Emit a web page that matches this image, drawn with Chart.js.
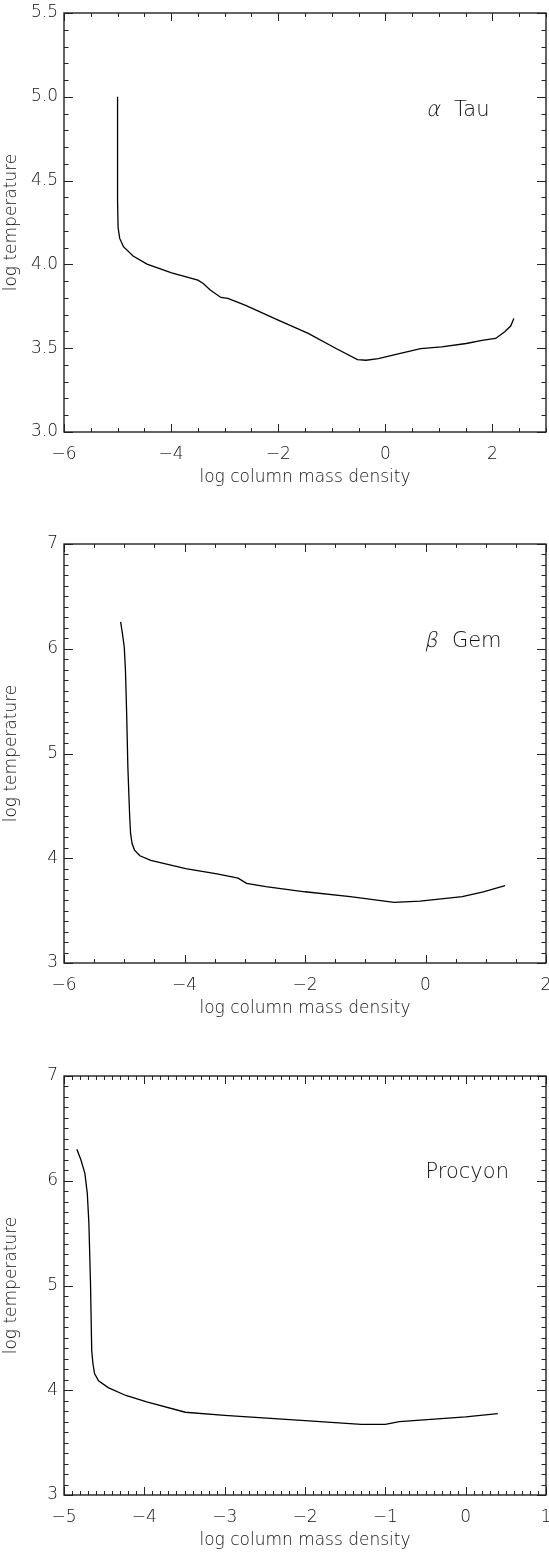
<!DOCTYPE html>
<html>
<head>
<meta charset="utf-8">
<title>Temperature structure</title>
<script src="https://cdn.jsdelivr.net/npm/chart.js@4.4.0/dist/chart.umd.min.js"></script>
<style>
  html, body { margin: 0; padding: 0; background: #fff; overflow: hidden; }
  body { width: 549px; height: 1552px; position: relative; }
  canvas { position: absolute; left: 0; }
</style>
</head>
<body>
<canvas id="tauChart" width="549" height="500" style="top:0px"></canvas>
<canvas id="gemChart" width="549" height="530" style="top:500px"></canvas>
<canvas id="procyonChart" width="549" height="522" style="top:1030px"></canvas>
<script>
// alpha Tau model
const tauMass = [-5.0, -5.0, -4.99, -4.96, -4.89, -4.71, -4.45, -3.99, -3.50, -3.40, -3.27, -3.07, -2.94,
                 -2.62, -2.0, -1.44, -0.92, -0.52, -0.36, -0.13, 0.26, 0.66, 1.05, 1.51, 1.83, 2.06, 2.23, 2.34, 2.40];
const tauTemp = [5.0, 4.38, 4.22, 4.155, 4.106, 4.05, 4.002, 3.95, 3.906, 3.886, 3.847, 3.803, 3.797,
                 3.757, 3.667, 3.588, 3.498, 3.432, 3.428, 3.438, 3.468, 3.498, 3.508, 3.528, 3.548, 3.558, 3.598, 3.632, 3.677];
const tauXTicks = [-6, -4, -2, 0, 2];
const tauYTicks = [3.0, 3.5, 4.0, 4.5, 5.0, 5.5];

// beta Gem model
const gemMass = [-5.06, -5.03, -5.0, -4.98, -4.96, -4.94, -4.91, -4.895, -4.87, -4.83, -4.74, -4.56, -3.98,
                 -3.46, -3.11, -2.97, -2.65, -2.0, -1.25, -0.52, -0.09, 0.61, 0.96, 1.32];
const gemTemp = [6.256, 6.145, 6.017, 5.795, 5.38, 4.87, 4.40, 4.237, 4.14, 4.078, 4.024, 3.98, 3.90,
                 3.85, 3.81, 3.76, 3.73, 3.68, 3.633, 3.579, 3.59, 3.633, 3.68, 3.738];
const gemXTicks = [-6, -4, -2, 0, 2];
const gemYTicks = [3, 4, 5, 6, 7];

// Procyon model
const procMass = [-4.84, -4.79, -4.74, -4.71, -4.69, -4.67, -4.655, -4.64, -4.62, -4.57, -4.45, -4.23, -3.97,
                  -3.49, -3.0, -2.0, -1.30, -1.0, -0.825, 0.0, 0.40];
const procTemp = [6.30, 6.20, 6.07, 5.88, 5.59, 5.02, 4.38, 4.255, 4.16, 4.09, 4.025, 3.95, 3.89,
                  3.79, 3.76, 3.71, 3.675, 3.675, 3.70, 3.745, 3.777];
const procXTicks = [-5, -4, -3, -2, -1, 0, 1];
const procYTicks = [3, 4, 5, 6, 7];

const FONT = "'DejaVu Sans', sans-serif";
const INK = '#111';

Chart.defaults.font.family = FONT;
Chart.defaults.font.weight = 200;
Chart.defaults.color = INK;

function minusLabel(v) {
    return v < 0 ? '\u2212' + Math.abs(v) : String(v);
}

// frame, inward major/minor ticks on all four sides, and the star name
const frameTicks = {
    id: 'frameTicks',
    afterDraw(chart, args, opts) {
        const { ctx, chartArea: a, scales: { x, y } } = chart;
        ctx.save();
        ctx.strokeStyle = '#222';
        ctx.lineWidth = 1;
        ctx.beginPath();
        const nx = Math.round((x.max - x.min) / opts.minorX);
        for (let i = 0; i <= nx; i++) {
            const v = x.min + i * opts.minorX;
            const major = opts.xTicks.some(t => Math.abs(t - v) < 1e-6);
            const len = major ? 8 : 4;
            const px = Math.round(x.getPixelForValue(v)) + 0.5;
            ctx.moveTo(px, a.bottom); ctx.lineTo(px, a.bottom - len);
            ctx.moveTo(px, a.top); ctx.lineTo(px, a.top + len);
        }
        const ny = Math.round((y.max - y.min) / opts.minorY);
        for (let i = 0; i <= ny; i++) {
            const v = y.min + i * opts.minorY;
            const major = opts.yTicks.some(t => Math.abs(t - v) < 1e-6);
            const len = major ? 9 : 4.5;
            const py = Math.round(y.getPixelForValue(v)) + 0.5;
            ctx.moveTo(a.left, py); ctx.lineTo(a.left + len, py);
            ctx.moveTo(a.right, py); ctx.lineTo(a.right - len, py);
        }
        ctx.stroke();
        ctx.lineWidth = 1.4;
        ctx.strokeRect(a.left, a.top, a.right - a.left, a.bottom - a.top);

        // star name, greek letter slanted by hand to keep the thin weight
        const lx = x.getPixelForValue(opts.labelAt[0]);
        const ly = y.getPixelForValue(opts.labelAt[1]);
        ctx.fillStyle = INK;
        ctx.textBaseline = 'middle';
        ctx.textAlign = 'left';
        ctx.font = `200 21px ${FONT}`;
        let cx = lx;
        if (opts.greek) {
            ctx.save();
            ctx.translate(cx, ly);
            ctx.transform(1, 0, -0.22, 1, 0, 0);
            ctx.fillText(opts.greek, 0, 0);
            ctx.restore();
            cx += ctx.measureText(opts.greek).width + 13;
        }
        ctx.fillText(opts.name, cx, ly);
        ctx.restore();
    }
};

function makePanel(id, cfg) {
    return new Chart(document.getElementById(id), {
        type: 'scatter',
        data: {
            datasets: [{
                data: cfg.mass.map((m, i) => ({ x: m, y: cfg.temp[i] })),
                showLine: true,
                borderColor: '#000',
                borderWidth: 1.3,
                pointRadius: 0,
                tension: 0,
                fill: false
            }]
        },
        options: {
            responsive: false,
            animation: false,
            layout: { padding: { top: cfg.top, right: 3, left: 0, bottom: 0 } },
            plugins: {
                legend: { display: false },
                tooltip: { enabled: false },
                frameTicks: {
                    xTicks: cfg.xTicks, yTicks: cfg.yTicks,
                    minorX: cfg.minorX, minorY: cfg.minorY,
                    labelAt: cfg.labelAt, greek: cfg.greek, name: cfg.name
                }
            },
            scales: {
                x: {
                    type: 'linear',
                    min: cfg.xMin, max: cfg.xMax,
                    grid: { display: false, drawTicks: false },
                    border: { display: false },
                    afterBuildTicks: s => { s.ticks = cfg.xTicks.map(v => ({ value: v })); },
                    afterFit: s => { s.height = cfg.xHeight; s.paddingLeft = 0; s.paddingRight = 0; },
                    ticks: {
                        padding: 12,
                        maxRotation: 0,
                        autoSkip: false,
                        font: { size: 17 },
                        callback: v => minusLabel(v)
                    },
                    title: {
                        display: true,
                        text: 'log column mass density',
                        font: { size: 17 },
                        padding: { top: 0, bottom: cfg.titlePad }
                    }
                },
                y: {
                    type: 'linear',
                    min: cfg.yMin, max: cfg.yMax,
                    grid: { display: false, drawTicks: false },
                    border: { display: false },
                    afterBuildTicks: s => { s.ticks = cfg.yTicks.map(v => ({ value: v })); },
                    afterFit: s => { s.width = 64; s.paddingTop = 0; s.paddingBottom = 0; },
                    ticks: {
                        padding: 6,
                        autoSkip: false,
                        font: { size: 17 },
                        callback: v => cfg.yFormat(v)
                    },
                    title: {
                        display: true,
                        text: 'log temperature',
                        font: { size: 17 },
                        padding: { top: 1, bottom: 0 }
                    }
                }
            }
        },
        plugins: [frameTicks]
    });
}

makePanel('tauChart', {
    mass: tauMass, temp: tauTemp, xTicks: tauXTicks, yTicks: tauYTicks,
    xMin: -6, xMax: 3, yMin: 3.0, yMax: 5.5, minorX: 0.5, minorY: 0.1,
    yFormat: v => v.toFixed(1),
    top: 13, xHeight: 68, titlePad: 12,
    labelAt: [0.78, 4.92], greek: '\u03b1', name: 'Tau'
});

makePanel('gemChart', {
    mass: gemMass, temp: gemTemp, xTicks: gemXTicks, yTicks: gemYTicks,
    xMin: -6, xMax: 2, yMin: 3, yMax: 7, minorX: 0.5, minorY: 0.1,
    yFormat: v => String(v),
    top: 44, xHeight: 67, titlePad: 11,
    labelAt: [0.0, 6.07], greek: '\u03b2', name: 'Gem'
});

makePanel('procyonChart', {
    mass: procMass, temp: procTemp, xTicks: procXTicks, yTicks: procYTicks,
    xMin: -5, xMax: 1, yMin: 3, yMax: 7, minorX: 0.1, minorY: 0.1,
    yFormat: v => String(v),
    top: 46, xHeight: 57, titlePad: 1,
    labelAt: [-0.5, 6.08], greek: null, name: 'Procyon'
});
</script>
</body>
</html>
